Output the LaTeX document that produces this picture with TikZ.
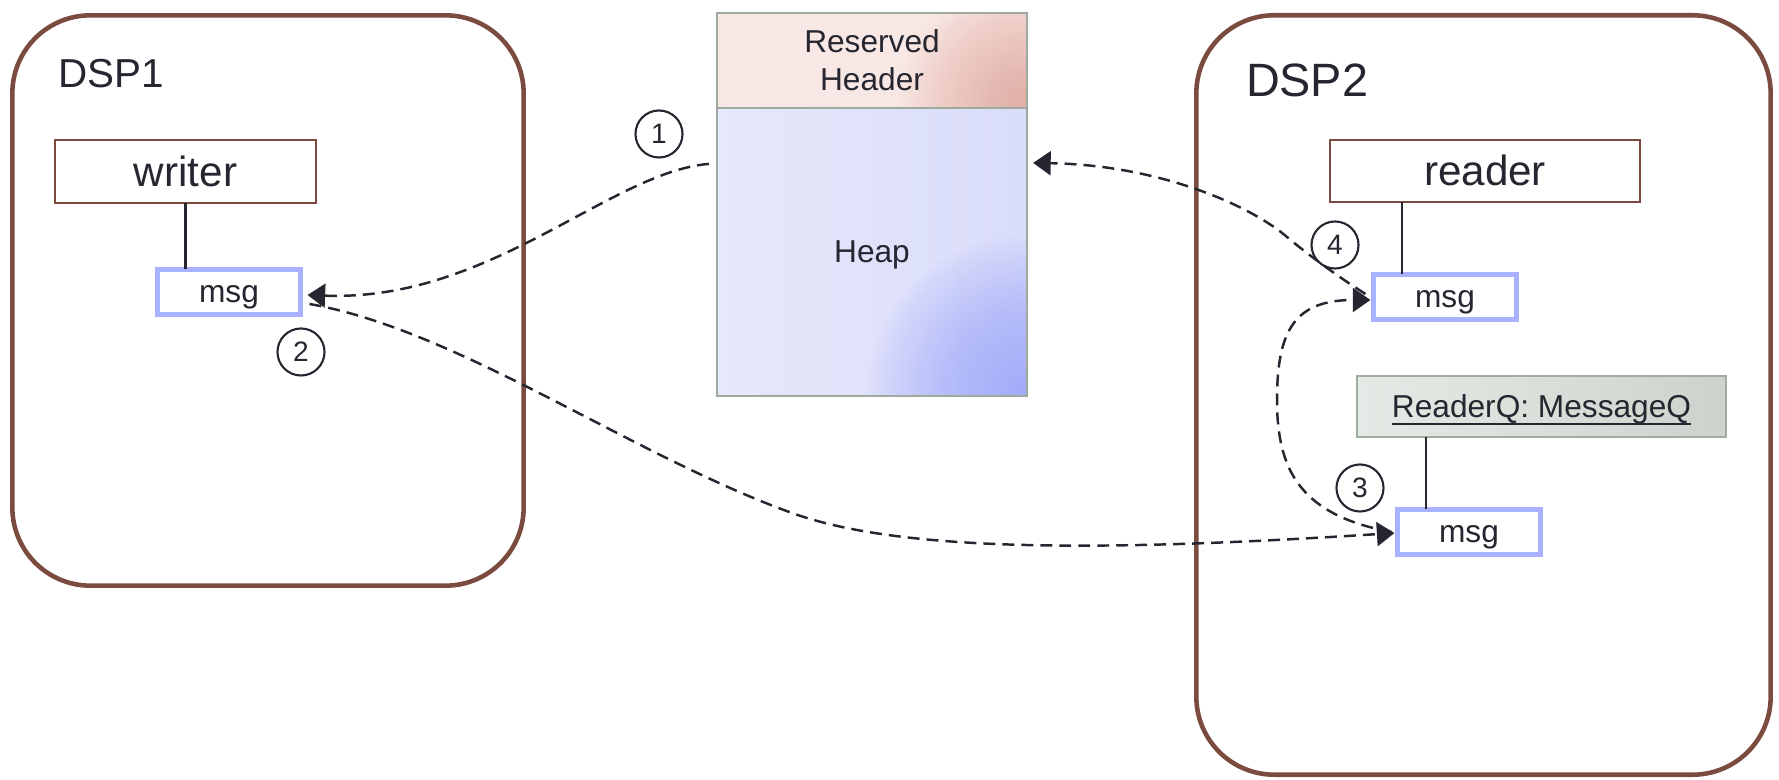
\documentclass[tikz,border=0pt]{standalone}
\usepackage{fontspec}
\setmainfont{Liberation Sans}
\usetikzlibrary{arrows.meta,calc}

\definecolor{dspbrown}{HTML}{7B4B3F}
\definecolor{msgblue}{HTML}{AAB2FF}
\definecolor{ink}{HTML}{262630}
\definecolor{memframe}{HTML}{9DAA9D}
\definecolor{hdrA}{HTML}{F8E8E5}
\definecolor{hdrB}{HTML}{E29A8E}
\definecolor{heapL}{HTML}{E6E8FB}
\definecolor{heapR}{HTML}{DADDF9}
\definecolor{heapC}{HTML}{9AA4FF}
\definecolor{qA}{HTML}{E6EAE6}
\definecolor{qB}{HTML}{CCD3CC}
\definecolor{qframe}{HTML}{9FAD9F}

% underline sitting just below the baseline
\newcommand\qunderline[1]{\setbox0\hbox{#1}\rlap{\rule[-2.2pt]{\wd0}{0.55pt}}\box0}

% soft tint growing out of the lower right corner of a node (used inside path picture)
% #1 colour, #2 opacity of one layer, #3 number of layers, #4 outer radius in cm
\newcommand\cornerglow[4]{%
  \foreach \k in {1,...,#3}{%
    \pgfmathsetmacro\glowr{#4*\k/#3}%
    \fill[#1, opacity=#2] ($(path picture bounding box.south east)+(-4,-4)$)
      circle (\glowr cm);}}

\begin{document}
\begin{tikzpicture}[x=0.01cm, y=-0.01cm,
  every node/.style={text=ink, inner sep=0pt, outer sep=0pt},
  dspbox/.style={draw=dspbrown, line width=1.3pt, rounded corners=0.78cm, rectangle},
  dsplabel/.style={anchor=base west},
  objbox/.style={draw=dspbrown, line width=0.7pt, fill=white, font=\fontsize{12}{14}\selectfont,
                 text height=10.9pt, text depth=2.5pt},
  msgbox/.style={draw=msgblue, line width=1.3pt, fill=white, minimum width=1.43cm,
                 minimum height=0.455cm, font=\fontsize{9}{11}\selectfont,
                 text height=8.1pt, text depth=1.9pt},
  memblock/.style={draw=memframe, line width=0.6pt, minimum width=3.10cm, align=center,
                   font=\fontsize{9}{10.8}\selectfont},
  stepno/.style={circle, draw=ink, line width=0.6pt, minimum size=0.47cm,
                 font=\fontsize{8}{10}\selectfont},
  link/.style={draw=ink, line width=0.7pt},
  flow/.style={draw=ink, line width=0.7pt, dash pattern=on 3.4pt off 2pt,
               -{Triangle[length=5pt,width=6.8pt]}},
]
\useasboundingbox (0,0) rectangle (1779,780);

% processor frames
\node[dspbox, minimum width=5.11cm, minimum height=5.70cm] (dsp1) at (268,300.5) {};
\node[dspbox, minimum width=5.74cm, minimum height=7.59cm] (dsp2) at (1483.5,395) {};
\node[dsplabel, font=\fontsize{11.5}{13}\selectfont] (dsp1lbl) at (58,88) {DSP1};
\node[dsplabel, font=\fontsize{13.3}{15}\selectfont] (dsp2lbl) at (1246,97) {DSP2};

% shared memory region, each part tinted towards its lower right corner
\node[memblock, minimum height=0.95cm, fill=hdrA, path picture={
    \cornerglow{hdrB}{0.036}{26}{1.25}
  }] (header) at (872,60.5) {Reserved\\Header};
\node[memblock, minimum height=2.88cm, left color=heapL, right color=heapR, path picture={
    \cornerglow{heapC}{0.04}{32}{1.55}
  }, text height=8.1pt, text depth=1.9pt] (heap) at (872,252) {Heap};

% DSP1 objects
\node[objbox, minimum width=2.61cm, minimum height=0.63cm] (writer) at (185.5,171.5) {writer};
\node[msgbox] (m1) at (229,292) {msg};
\draw[link] (writer.south) -- (writer.south |- m1.north);

% DSP2 objects
\node[objbox, minimum width=3.10cm, minimum height=0.62cm] (reader) at (1485,171) {reader};
\node[msgbox] (mR) at (1445,297) {msg};
\node[draw=qframe, line width=0.6pt, left color=qA, right color=qB,
      minimum width=3.69cm, minimum height=0.61cm, font=\fontsize{9}{11}\selectfont,
      text height=8.1pt, text depth=1.9pt]
      (rq) at (1541.5,406.5) {\qunderline{ReaderQ: MessageQ}};
\node[msgbox] (m2) at (1469,532) {msg};
\coordinate (rlx) at (1402,0);
\coordinate (qlx) at (1426,0);
\draw[link] (reader.south -| rlx) -- (mR.north -| rlx);
\draw[link] (rq.south -| qlx) -- (m2.north -| qlx);

% step numbers
\node[stepno] (s1) at (659,134) {1};
\node[stepno] (s2) at (301,352) {2};
\node[stepno] (s3) at (1360,488) {3};
\node[stepno] (s4) at (1335,245) {4};

% message flow
\coordinate (c2mid) at (792,513);
\coordinate (c3left) at (1277,400);
\coordinate (c4bend) at (1287,237);
\draw[flow] ($(heap.north west)+(-8,56)$) .. controls (610,172) and (490,302) .. ($(m1.east)+(7,3)$);
\draw[flow] ($(m1.east)+(9,12)$) .. controls (458,330) and (631,455) .. (c2mid)
            .. controls (900,552) and (1100,552) .. ($(m2.west)+(-3,1)$);
\draw[flow] ($(m2.west)+(-6,0)$) .. controls (1300,515) and (1277,470) .. (c3left)
            .. controls (1277,330) and (1295,300) .. ($(mR.west)+(-3,3)$);
\draw[flow] ($(mR.west)+(-8,-3)$) .. controls (1340,278) and (1307,254) .. (c4bend)
            .. controls (1251,206) and (1160,165) .. ($(heap.north east)+(6,55)$);
\end{tikzpicture}
\end{document}
